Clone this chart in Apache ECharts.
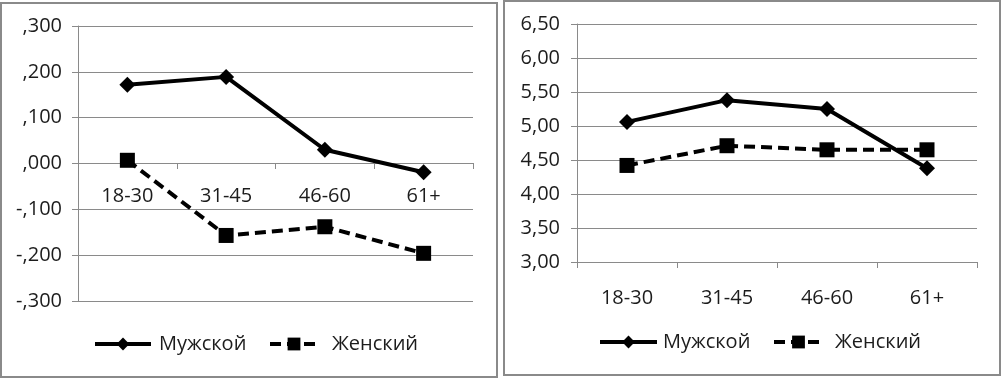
<!DOCTYPE html>
<html>
<head>
<meta charset="utf-8">
<script src="https://cdn.jsdelivr.net/npm/echarts@6/dist/echarts.min.js"></script>
<style>
  html, body { margin: 0; padding: 0; background: #fff; }
  #chart { width: 1002px; height: 378px; }
</style>
</head>
<body>
<div id="chart"></div>
<script>
// age groups
var categories = ['18-30', '31-45', '46-60', '61+'];

// left panel (centred scores)
var leftMale = [0.172, 0.189, 0.030, -0.019];
var leftFemale = [0.007, -0.157, -0.138, -0.196];

// right panel (mean scores)
var rightMale = [5.06, 5.38, 5.25, 4.38];
var rightFemale = [4.42, 4.71, 4.65, 4.65];

var seriesNames = ['Мужской', 'Женский'];

var font = 'Open Sans';
var textColor = '#1c1c1c';
var gray = '#8a8a8a';

function yAxisCfg (idx, min, max, step, fmt, margin) {
    return {
        type: 'value',
        gridIndex: idx,
        min: min,
        max: max,
        interval: step,
        axisLine: { show: true, lineStyle: { color: gray, width: 1 } },
        axisTick: { show: true, length: 6, lineStyle: { color: gray } },
        splitLine: { show: true, lineStyle: { color: gray, width: 1 } },
        axisLabel: {
            margin: margin,
            color: textColor,
            fontFamily: font,
            fontSize: 20,
            formatter: fmt
        }
    };
}

function xAxisCfg (idx, margin, offset) {
    return {
        type: 'category',
        gridIndex: idx,
        data: categories,
        position: 'bottom',
        offset: offset,
        axisLine: { show: true, onZero: false, lineStyle: { color: gray, width: 1 } },
        axisTick: { show: true, length: 6, lineStyle: { color: gray } },
        splitLine: { show: false },
        axisLabel: {
            margin: margin,
            color: textColor,
            fontFamily: font,
            fontSize: 20
        }
    };
}

function maleSeries (idx, data) {
    return {
        name: seriesNames[0],
        type: 'line',
        xAxisIndex: idx,
        yAxisIndex: idx,
        data: data,
        symbol: 'diamond',
        symbolSize: 16,
        itemStyle: { color: '#000' },
        lineStyle: { color: '#000', width: 4 },
        animation: false
    };
}

function femaleSeries (idx, data) {
    return {
        name: seriesNames[1],
        type: 'line',
        xAxisIndex: idx,
        yAxisIndex: idx,
        data: data,
        symbol: 'rect',
        symbolSize: 15,
        itemStyle: { color: '#000' },
        lineStyle: { color: '#000', width: 4, type: [11, 6] },
        animation: false
    };
}

// one legend per entry so each icon/text can sit where the picture has it
function legendCfg (name, left, top, iconW, textPad) {
    return {
        data: [name],
        left: left,
        top: top,
        padding: 0,
        itemWidth: iconW,
        itemHeight: 16,
        selectedMode: false,
        lineStyle: { width: 4 },
        textStyle: { color: textColor, fontFamily: font, fontSize: 20, padding: [0, 0, 0, textPad] }
    };
}

var leftFmt = function (v) {
    var s = (Math.round(v * 1000) / 1000).toFixed(3);
    return s.replace('0.', ',');
};
var rightFmt = function (v) {
    return v.toFixed(2).replace('.', ',');
};

var chart = echarts.init(document.getElementById('chart'));
chart.setOption({
    backgroundColor: '#fff',
    graphic: [
        { type: 'rect', shape: { x: 1, y: 3, width: 496, height: 374 }, style: { fill: 'none', stroke: gray, lineWidth: 2 }, silent: true },
        { type: 'rect', shape: { x: 504, y: 1, width: 496, height: 374 }, style: { fill: 'none', stroke: gray, lineWidth: 2 }, silent: true }
    ],
    grid: [
        { left: 78, top: 26, width: 395, height: 275 },
        { left: 577, top: 24, width: 400, height: 238 }
    ],
    legend: [
        legendCfg(seriesNames[0], 93, 334, 56, 3),
        legendCfg(seriesNames[1], 268, 334, 48, 9),
        legendCfg(seriesNames[0], 598, 332, 57, 1),
        legendCfg(seriesNames[1], 772, 332, 49, 7)
    ],
    xAxis: [xAxisCfg(0, 23, -138), xAxisCfg(1, 26, 0)],
    yAxis: [
        yAxisCfg(0, -0.3, 0.3, 0.1, leftFmt, 16),
        yAxisCfg(1, 3, 6.5, 0.5, rightFmt, 17)
    ],
    series: [
        maleSeries(0, leftMale),
        femaleSeries(0, leftFemale),
        maleSeries(1, rightMale),
        femaleSeries(1, rightFemale)
    ]
});
</script>
</body>
</html>
